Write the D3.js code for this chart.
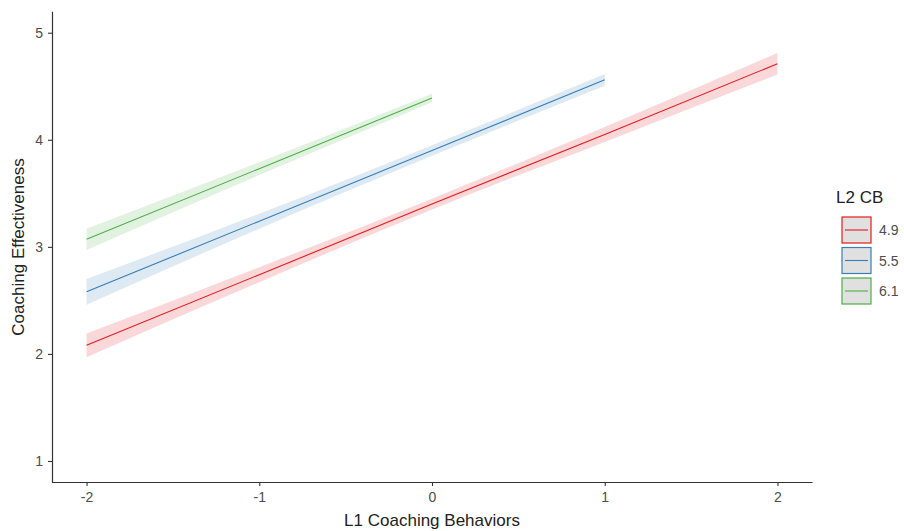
<!doctype html>
<html>
<head>
<meta charset="utf-8">
<script src="https://cdnjs.cloudflare.com/ajax/libs/d3/7.8.5/d3.min.js"></script>
<style>
body { margin: 0; background: #fff; }
svg text { font-family: "Liberation Sans", Arial, sans-serif; }
</style>
</head>
<body>
<svg id="chart" width="904" height="531"></svg>
<script>
// moderator levels (L2 CB) and the fitted lines
var groups = ["4.9", "5.5", "6.1"];
var colors = ["#E41A1C", "#377EB8", "#4DAF4A"];
var xPts = [[-2, -1, 0, 1, 2], [-2, -1, 0, 1], [-2, -1, 0]];
var fit = [[2.08, 2.74, 3.40, 4.05, 4.71], [2.58, 3.24, 3.90, 4.56], [3.07, 3.73, 4.39]];
var halfBand = [[0.11, 0.07, 0.05, 0.07, 0.10], [0.12, 0.07, 0.05, 0.055], [0.10, 0.06, 0.04]];
var xTicks = [-2, -1, 0, 1, 2];
var yTicks = [1, 2, 3, 4, 5];

var svg = d3.select("#chart");
var x = d3.scaleLinear().domain([-2.2, 2.2]).range([52, 812]);
var y = d3.scaleLinear().domain([0.8, 5.2]).range([482.4, 11.3]);
var fmt = d => String(d);

groups.forEach(function(g, i) {
  var pts = xPts[i].map(function(v, j) {
    return {x: v, y: fit[i][j], lo: fit[i][j] - halfBand[i][j], hi: fit[i][j] + halfBand[i][j]};
  });
  svg.append("path").datum(pts)
    .attr("fill", colors[i]).attr("fill-opacity", 0.17)
    .attr("d", d3.area().curve(d3.curveMonotoneX)
      .x(d => x(d.x)).y0(d => y(d.lo)).y1(d => y(d.hi)));
  svg.append("path").datum(pts)
    .attr("fill", "none").attr("stroke", colors[i]).attr("stroke-width", 1.1)
    .attr("d", d3.line().x(d => x(d.x)).y(d => y(d.y)));
});

var xAxis = svg.append("g").attr("transform", "translate(0,482)")
  .call(d3.axisBottom(x).tickValues(xTicks).tickSizeInner(4).tickSizeOuter(0).tickPadding(6).tickFormat(fmt));
var yAxis = svg.append("g").attr("transform", "translate(52,0)")
  .call(d3.axisLeft(y).tickValues(yTicks).tickSizeInner(4).tickSizeOuter(0).tickPadding(5).tickFormat(fmt));
[xAxis, yAxis].forEach(function(a) {
  a.select(".domain").attr("stroke", "#333").attr("stroke-width", 1.2);
  a.selectAll(".tick line").attr("stroke", "#333").attr("stroke-width", 1.1);
  a.selectAll(".tick text").attr("fill", "#4d4d4d").style("font-size", "14px");
});

svg.append("text").attr("x", 432).attr("y", 526).attr("text-anchor", "middle")
  .style("font-size", "17px").attr("fill", "#222").text("L1 Coaching Behaviors");
svg.append("text").attr("transform", "translate(24,247) rotate(-90)").attr("text-anchor", "middle")
  .style("font-size", "17px").attr("fill", "#222").text("Coaching Effectiveness");

// legend
var leg = svg.append("g").attr("transform", "translate(836,0)");
leg.append("text").attr("x", 0).attr("y", 203).style("font-size", "17px").attr("fill", "#222").text("L2 CB");
groups.forEach(function(g, i) {
  var top = 217 + i * 30.5;
  leg.append("rect").attr("x", 6).attr("y", top).attr("width", 29).attr("height", 26)
    .attr("fill", "#e0e0e0").attr("stroke", colors[i]).attr("stroke-width", 1.2);
  leg.append("line").attr("x1", 9).attr("x2", 32).attr("y1", top + 13).attr("y2", top + 13)
    .attr("stroke", colors[i]).attr("stroke-width", 1.1);
  leg.append("text").attr("x", 43).attr("y", top + 18).style("font-size", "14px")
    .attr("fill", "#4d4d4d").text(g);
});
</script>
</body>
</html>
